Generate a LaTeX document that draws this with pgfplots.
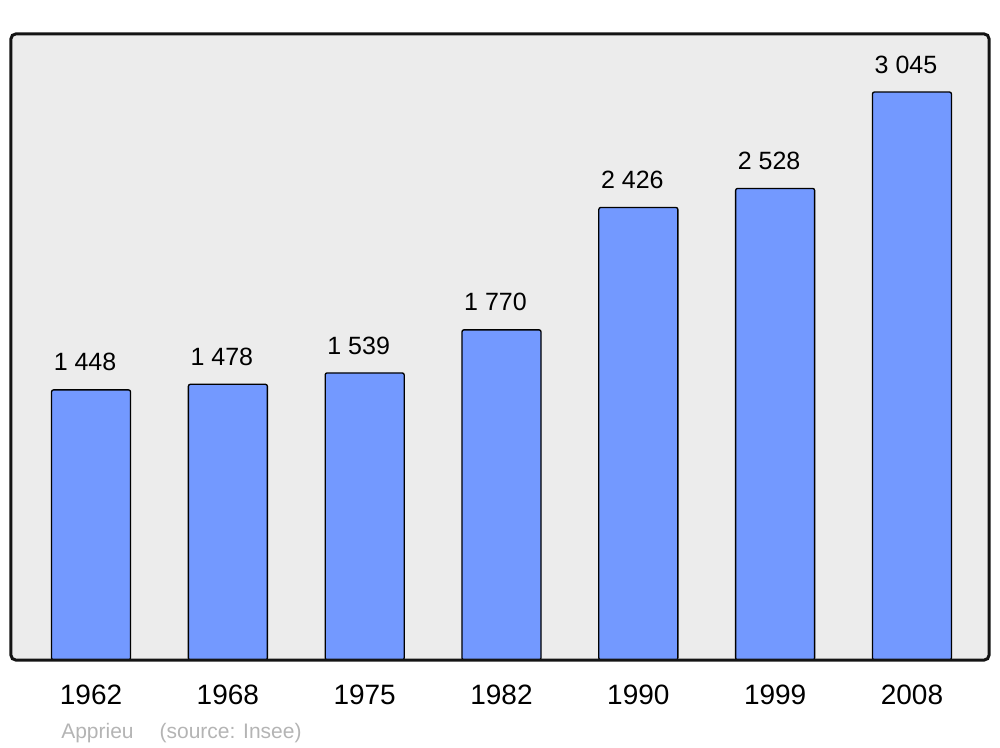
\documentclass[border=0pt]{standalone}
\usepackage{pgfplots}
\pgfplotsset{compat=1.18}
\usepackage{fontspec}
\setmainfont{Liberation Sans}
\definecolor{barblue}{RGB}{115,153,255}
\definecolor{bggray}{RGB}{236,236,236}
\definecolor{foot}{RGB}{180,180,180}
\definecolor{frame}{RGB}{20,20,20}
\begin{document}
\begin{tikzpicture}[x=1pt,y=1pt]
\path[use as bounding box] (0,0) rectangle (750,560.25);
\begin{axis}[
  at={(8.25pt,65.25pt)}, anchor=south west,
  scale only axis, width=733.5pt, height=469.5pt,
  xmin=-0.585, xmax=6.563, ymin=0, ymax=3356,
  clip=false,
  axis line style={draw=none},
  axis background/.style={fill=bggray},
  ytick=\empty,
  xtick={0,1,2,3,4,5,6},
  xticklabels={1962,1968,1975,1982,1990,1999,2008},
  major tick length=0pt,
  xticklabel style={font=\fontsize{21}{25}\selectfont, inner sep=0pt, yshift=-18.75pt},
  ybar, bar width=0.5775,
  /pgf/number format/.cd, 1000 sep={\ }, assume math mode=true, /pgfplots/.cd,
  nodes near coords,
  every node near coord/.append style={font=\fontsize{18.75}{22}\selectfont, inner sep=0pt, yshift=13.5pt, xshift=-4.5pt, text=black},
]
\addplot[fill=barblue, draw=black, line width=1pt, rounded corners=1.5pt]
  coordinates {(0,1448) (1,1478) (2,1539) (3,1770) (4,2426) (5,2528) (6,3045)};
\draw[draw=frame, line width=2.25pt, rounded corners=3.5pt] (rel axis cs:0,0) rectangle (rel axis cs:1,1);
\end{axis}
\node[anchor=base west, font=\fontsize{15.75}{18}\selectfont, text=foot, inner sep=0pt] at (45.75,6.75) {Apprieu};
\node[anchor=base west, font=\fontsize{15.75}{18}\selectfont, text=foot, inner sep=0pt] at (119.5,6.75) {(source: Insee)};
\end{tikzpicture}
\end{document}
